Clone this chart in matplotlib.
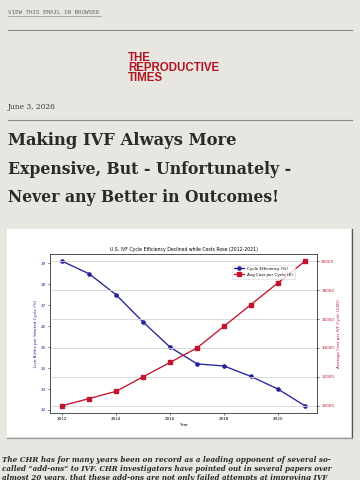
import matplotlib
matplotlib.use('Agg')
import matplotlib.pyplot as plt
from matplotlib.patches import Rectangle
from matplotlib.lines import Line2D

# Data for the embedded chart
years = [2012, 2013, 2014, 2015, 2016, 2017, 2018, 2019, 2020, 2021]
efficiency = [29.1, 28.5, 27.5, 26.2, 25.0, 24.2, 24.1, 23.6, 23.0, 22.2]
avg_cost = [10000, 10500, 11000, 12000, 13000, 14000, 15500, 17000, 18500, 20000]
eff_ticks = [22, 23, 24, 25, 26, 27, 28, 29]
cost_ticks = [10000, 12000, 14000, 16000, 18000, 20000]
year_ticks = [2012, 2014, 2016, 2018, 2020]

logo = 'THE\nREPRODUCTIVE\nTIMES'
title_lines = ['Making IVF Always More',
               'Expensive, But - Unfortunately -',
               'Never any Better in Outcomes!']
body_lines = ['The CHR has for many years been on record as a leading opponent of several so-',
              'called \u201cadd-ons\u201d to IVF. CHR investigators have pointed out in several papers over',
              'almost 20 years, that these add-ons are not only failed attempts at improving IVF']

W, H = 360, 480
BG = '#e8e6e1'
BLUE = '#23239a'
RED = '#c2142c'

fig = plt.figure(figsize=(W / 100, H / 100), dpi=100)
fig.patch.set_facecolor(BG)
renderer = fig.canvas.get_renderer()


def px(x, y):
    # pixel coords (top-left origin) -> figure fraction
    return x / W, 1 - y / H


def fit_text(x, y, s, width, size=10, **kw):
    """put text with its left edge at x, baseline at y, scaled to a pixel width"""
    t = fig.text(*px(x, y), s, fontsize=size, va='baseline', ha='left', **kw)
    w = t.get_window_extent(renderer).width
    t.set_fontsize(size * width / w)
    return t


def hline(x0, x1, y, color='#8a8a8a', lw=0.8):
    fig.add_artist(Line2D([x0 / W, x1 / W], [1 - y / H, 1 - y / H],
                          color=color, lw=lw, transform=fig.transFigure))


# header
fit_text(8, 14, 'VIEW THIS EMAIL IN BROWSER', 93, family='DejaVu Sans Mono', color='#6a6a6a')
hline(8, 101, 15.5, color='#7a7a7a', lw=0.4)
hline(8, 352, 30)

# logo (one block of text, tight leading)
fig.text(*px(128, 52), logo, fontsize=8.3, va='top', ha='left', linespacing=0.78,
         family='Liberation Sans', weight='bold', color='#b3131f')

fit_text(8, 109, 'June 3, 2026', 48, family='DejaVu Serif', color='#3a3a3a')
hline(8, 352, 120)

# headline
for txt, yb, wd in zip(title_lines, [145, 174, 202], [230, 284, 272]):
    fit_text(8, yb, txt, wd, family='DejaVu Serif', weight='bold', color='#2a2a2a')

# white card behind chart
fig.add_artist(Rectangle(px(7, 437), 344 / W, 208 / H, transform=fig.transFigure,
                         facecolor='white', edgecolor='none', zorder=-2))
fig.add_artist(Line2D([352 / W, 352 / W], [1 - 229 / H, 1 - 438 / H], color='#555555',
                      lw=0.9, transform=fig.transFigure, zorder=-1))
hline(7, 352, 437.5, color='#9a9a9a', lw=0.9)

# chart
ax = fig.add_axes([50 / W, (H - 413) / H, 267 / W, 159 / H])
ax2 = ax.twinx()
ax.set_zorder(2)
ax2.set_zorder(3)
l1, = ax.plot(years, efficiency, '-o', color=BLUE, lw=0.95, ms=2.3, label='Cycle Efficiency (%)')
l2, = ax2.plot(years, avg_cost, '-s', color=RED, lw=0.95, ms=2.3, label='Avg Cost per Cycle ($)')

ax.set_xticks(year_ticks)
ax.set_yticks(eff_ticks)
ax2.set_yticks(cost_ticks)
ax2.grid(axis='y', color='#d4d4d4', lw=0.6)

fs = 3.0
ax.set_xlabel('Year', fontsize=fs, labelpad=1.5)
ax.set_ylabel('Live Births per Started Cycle (%)', fontsize=fs, color=BLUE, labelpad=2)
ax2.set_ylabel('Average Cost per IVF Cycle (USD)', fontsize=fs, color=RED, labelpad=2)
ax.set_title('U.S. IVF Cycle Efficiency Declined while Costs Rose (2012-2021)',
             fontsize=3.3, pad=2)
ax.tick_params(axis='x', labelsize=fs, length=1.5, width=0.4, pad=1.5)
ax.tick_params(axis='y', labelsize=fs, length=1.5, width=0.4, pad=1.5, labelcolor=BLUE)
ax2.tick_params(axis='y', labelsize=fs, length=1.5, width=0.4, pad=1.5, labelcolor=RED)
for a in (ax, ax2):
    for sp in a.spines.values():
        sp.set_color('#444444')
        sp.set_linewidth(0.5)

leg = ax2.legend(handles=[l1, l2], loc='upper right', bbox_to_anchor=(0.925, 0.945),
                 fontsize=3.0, frameon=True, borderpad=0.5, handlelength=2.2,
                 labelspacing=0.4, fancybox=False)
leg.get_frame().set_edgecolor('#cccccc')
leg.get_frame().set_linewidth(0.4)

# body text
for txt, yb in zip(body_lines, [462.5, 471, 479.5]):
    fit_text(2, yb, txt, 328, family='DejaVu Serif', style='italic', weight='bold',
             color='#2a2a2a')

fig.savefig('out.png', dpi=100, facecolor=BG)
